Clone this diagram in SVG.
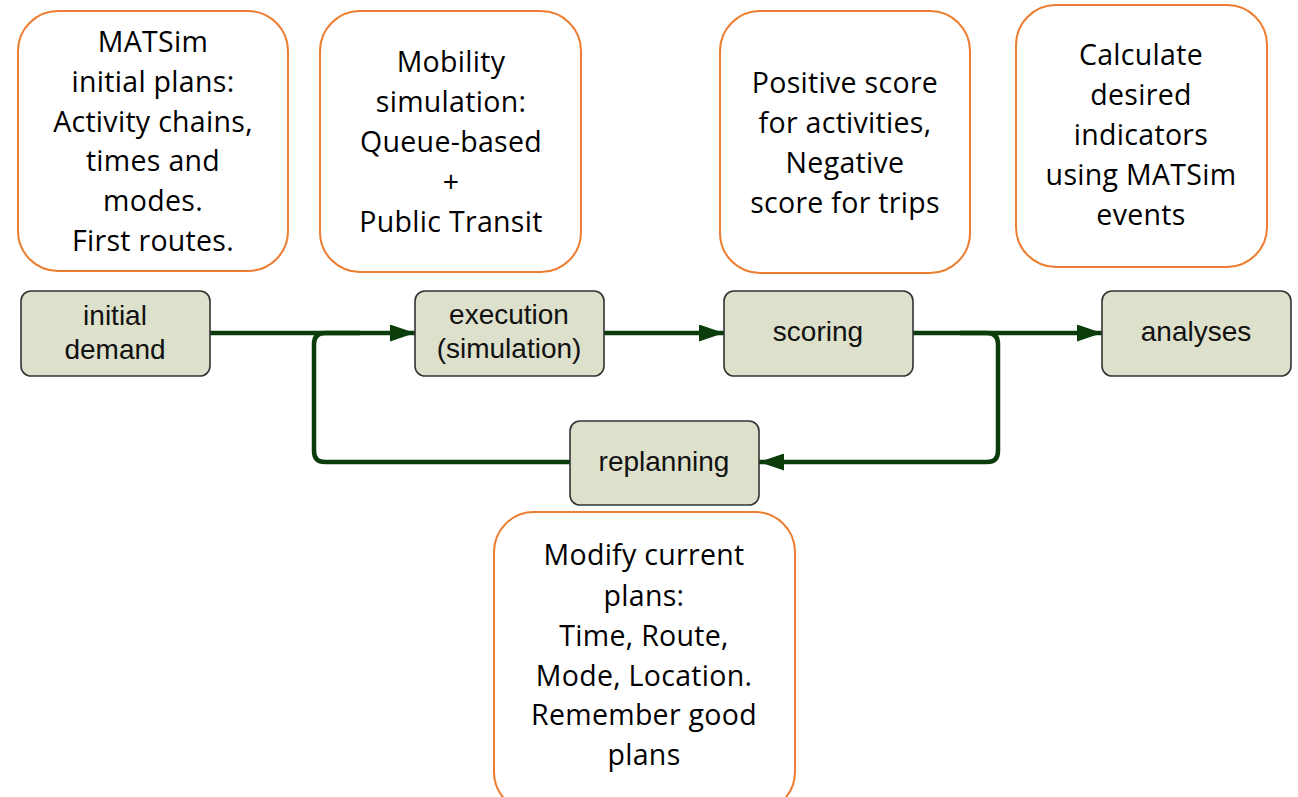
<svg xmlns="http://www.w3.org/2000/svg" width="1298" height="797" viewBox="0 0 1298 797">
<defs>
<style>
.note{fill:#fff;stroke:#ED7D31;stroke-width:2}
.nt{font-family:"Open Sans","Noto Sans",sans-serif;font-size:28.5px;letter-spacing:0.3px;fill:#000;text-anchor:middle;font-variant-ligatures:none}
.box{fill:#DDE0CB;stroke:#333;stroke-width:1.6}
.bt{font-family:"Liberation Sans",Arial,sans-serif;font-size:28px;fill:#111;text-anchor:middle}
.con{fill:none;stroke:#0B3D0B;stroke-width:4.5}
</style>
<marker id="ah" viewBox="0 0 25 17" refX="25" refY="8.5" markerWidth="25" markerHeight="17" markerUnits="userSpaceOnUse" orient="auto">
<path d="M0,0 L25,8.5 L0,17 Z" fill="#0B3D0B"/>
</marker>
</defs>
<rect width="1298" height="797" fill="#fff"/>

<g id="note-initial-plans">
<rect class="note" x="18" y="11" width="270" height="260" rx="40"/>
<text class="nt" x="153" y="52">MATSim</text>
<text class="nt" x="153" y="92">initial plans:</text>
<text class="nt" x="153" y="132">Activity chains,</text>
<text class="nt" x="153" y="171">times and</text>
<text class="nt" x="153" y="211">modes.</text>
<text class="nt" x="153" y="251">First routes.</text>
</g>
<g id="note-mobsim">
<rect class="note" x="320" y="11" width="261" height="261" rx="40"/>
<text class="nt" x="451" y="72">Mobility</text>
<text class="nt" x="451" y="112">simulation:</text>
<text class="nt" x="451" y="152">Queue-based</text>
<text class="nt" x="451" y="192">+</text>
<text class="nt" x="451" y="232">Public Transit</text>
</g>
<g id="note-scoring">
<rect class="note" x="720" y="11" width="250" height="262" rx="40"/>
<text class="nt" x="845" y="93">Positive score</text>
<text class="nt" x="845" y="133">for activities,</text>
<text class="nt" x="845" y="173">Negative</text>
<text class="nt" x="845" y="213">score for trips</text>
</g>
<g id="note-analyses">
<rect class="note" x="1016" y="5" width="251" height="262" rx="40"/>
<text class="nt" x="1141" y="65">Calculate</text>
<text class="nt" x="1141" y="105">desired</text>
<text class="nt" x="1141" y="145">indicators</text>
<text class="nt" x="1141" y="185">using MATSim</text>
<text class="nt" x="1141" y="225">events</text>
</g>
<g id="note-replanning">
<rect class="note" x="494" y="512" width="301" height="300" rx="40"/>
<text class="nt" x="644" y="565">Modify current</text>
<text class="nt" x="644" y="606">plans:</text>
<text class="nt" x="644" y="646">Time, Route,</text>
<text class="nt" x="644" y="686">Mode, Location.</text>
<text class="nt" x="644" y="725">Remember good</text>
<text class="nt" x="644" y="765">plans</text>
</g>

<g id="connectors">
<path class="con" d="M210,333 H415" marker-end="url(#ah)"/>
<path class="con" d="M570,462 H325 Q314,462 314,451 V344 Q314,333 325,333 H360"/>
<path class="con" d="M604,333 H724" marker-end="url(#ah)"/>
<path class="con" d="M913,333 H1102" marker-end="url(#ah)"/>
<path class="con" d="M960,333 H987 Q998,333 998,344 V451 Q998,462 987,462 H759" marker-end="url(#ah)"/>
</g>

<g id="initial-demand">
<rect class="box" x="21" y="291" width="189" height="85" rx="10"/>
<text class="bt" x="115" y="325">initial</text>
<text class="bt" x="115" y="359">demand</text>
</g>
<g id="execution">
<rect class="box" x="415" y="291" width="189" height="85" rx="10"/>
<text class="bt" x="509" y="324">execution</text>
<text class="bt" x="509" y="358">(simulation)</text>
</g>
<g id="scoring">
<rect class="box" x="724" y="291" width="189" height="85" rx="10"/>
<text class="bt" x="818" y="341">scoring</text>
</g>
<g id="analyses">
<rect class="box" x="1102" y="291" width="189" height="85" rx="10"/>
<text class="bt" x="1196" y="341">analyses</text>
</g>
<g id="replanning">
<rect class="box" x="570" y="421" width="189" height="84" rx="10"/>
<text class="bt" x="664" y="471">replanning</text>
</g>
</svg>
